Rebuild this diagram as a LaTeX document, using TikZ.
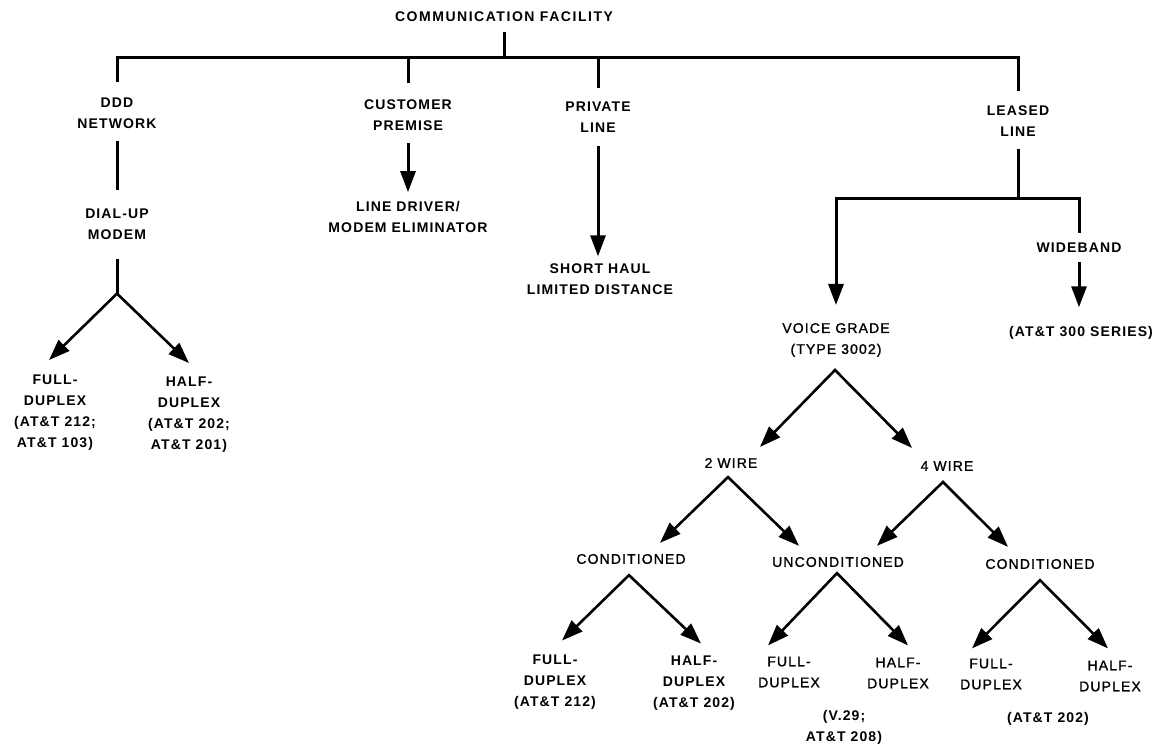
\documentclass[tikz,border=0pt]{standalone}
\usepackage{fontspec}
\setmainfont{Liberation Sans}[LetterSpace=8]
\usetikzlibrary{arrows.meta,calc}
\begin{document}
\begin{tikzpicture}[x=1pt,y=-1pt,
  lbl/.style={align=center,inner sep=0pt,font=\fontsize{14}{21}\selectfont\addfontfeature{FakeBold=1.2}},
  lblb/.style={align=center,inner sep=0pt,font=\fontsize{14}{21}\selectfont\bfseries},
  ln/.style={line width=3pt},
  va/.style={line width=3pt,-{Triangle[length=21pt,width=15pt]}},
  dd/.style={line width=2.6pt,line join=miter,{Triangle[length=21pt,width=15pt]}-{Triangle[length=21pt,width=15pt]}}]
\useasboundingbox (0,0) rectangle (1162,746);
% nodes
\node[lblb] (title) at (504,17) {\addfontfeature{LetterSpace=11}COMMUNICATION FACILITY};
\node[lblb] (ddd) at (117,113) {DDD\\NETWORK};
\node[lblb] (cust) at (408,115) {CUSTOMER\\PREMISE};
\node[lblb] (priv) at (598,117) {PRIVATE\\LINE};
\node[lblb] (leased) at (1018,121) {LEASED\\LINE};
\node[lblb] (dial) at (117,224) {DIAL-UP\\MODEM};
\node[lblb] (drv) at (408,217) {LINE DRIVER/\\MODEM ELIMINATOR};
\node[lblb] (short) at (600,279) {SHORT HAUL\\LIMITED DISTANCE};
\node[lblb] (wide) at (1079,248) {WIDEBAND};
\node[lblb] (att300) at (1081,333) {(AT\&T 300 SERIES)};
\node[lbl] (voice) at (836,340) {VOICE GRADE\\(TYPE 3002)};
\node[lblb] (full1) at (55,413) {FULL-\\DUPLEX\\(AT\&T 212;\\AT\&T 103)};
\node[lblb] (half1) at (189,415) {HALF-\\DUPLEX\\(AT\&T 202;\\AT\&T 201)};
\node[lbl] (wire2) at (731,463) {2 WIRE};
\node[lbl] (wire4) at (947,466) {4 WIRE};
\node[lbl] (cond1) at (631,559) {CONDITIONED};
\node[lbl] (uncond) at (838,562) {UNCONDITIONED};
\node[lbl] (cond2) at (1040,564) {CONDITIONED};
\node[lblb] (f2) at (555,682) {FULL-\\DUPLEX\\(AT\&T 212)};
\node[lblb] (h2) at (694,683) {HALF-\\DUPLEX\\(AT\&T 202)};
\node[lbl] (f3) at (789,672) {FULL-\\DUPLEX};
\node[lbl] (h3) at (898,673) {HALF-\\DUPLEX};
\node[lblb] (v29) at (844,727) {(V.29;\\AT\&T 208)};
\node[lbl] (f4) at (991,674) {FULL-\\DUPLEX};
\node[lbl] (h4) at (1110,676) {HALF-\\DUPLEX};
\node[lblb] (att202) at (1048,719) {(AT\&T 202)};
% top bar
\coordinate (tb) at (504,58);
\draw[ln,shorten <=10pt] (title.south) -- (tb);
\draw[ln,shorten <=15pt,shorten >=14pt] (ddd.north) |- (tb) -| (leased.north);
\draw[ln,shorten >=16pt] (tb -| cust.north) -- (cust.north);
\draw[ln,shorten >=13pt] (tb -| priv.north) -- (priv.north);
% DDD branch
\draw[ln,shorten <=12pt,shorten >=18pt] (ddd.south) -- (dial.north);
\coordinate (fork1) at ($(dial.south)+(0,54)$);
\draw[ln,shorten <=19pt] (dial.south) -- (fork1);
\draw[dd] ($(full1.north)+(-6,-15)$) -- (fork1) -- ($(half1.north)+(0,-14)$);
% customer / private
\draw[va,shorten <=12pt,shorten >=9pt] (cust.south) -- (cust.south |- drv.north);
\draw[va,shorten <=13pt,shorten >=7pt] (priv.south) -- (priv.south |- short.north);
% leased
\coordinate (lb) at ($(leased.south)+(0,62)$);
\draw[ln,shorten <=12pt] (leased.south) -- (lb);
\draw[va,shorten >=18pt] (lb) -| (voice.north);
\draw[ln,shorten >=10pt] (lb) -| (wide.north);
\draw[va,shorten <=9pt,shorten >=19pt] (wide.south) -- (wide.south |- att300.north);
% voice grade tree
\coordinate (vapex) at ($(voice.south)+(-1,13)$);
\draw[dd] ($(wire2.north)+(29,-11)$) -- (vapex) -- ($(wire4.north)+(-35,-13)$);
\coordinate (w2apex) at ($(wire2.south)+(-3,9)$);
\draw[dd] ($(cond1.north)+(29,-11)$) -- (w2apex) -- ($(uncond.north)+(-39,-11)$);
\coordinate (w4apex) at ($(wire4.south)+(-4,11)$);
\draw[dd] ($(uncond.north)+(39,-11)$) -- (w4apex) -- ($(cond2.north)+(-32,-12)$);
\coordinate (c1apex) at ($(cond1.south)+(-2,11)$);
\draw[dd] ($(f2.north)+(7,-14)$) -- (c1apex) -- ($(h2.north)+(7,-12)$);
\coordinate (uapex) at ($(uncond.south)+(-1,6)$);
\draw[dd] ($(f3.north)+(-21,-11)$) -- (uapex) -- ($(h3.north)+(10,-12)$);
\coordinate (c2apex) at ($(cond2.south)+(0,11)$);
\draw[dd] ($(f4.north)+(-19,-10)$) -- (c2apex) -- ($(h4.north)+(-2,-12)$);
\end{tikzpicture}
\end{document}
